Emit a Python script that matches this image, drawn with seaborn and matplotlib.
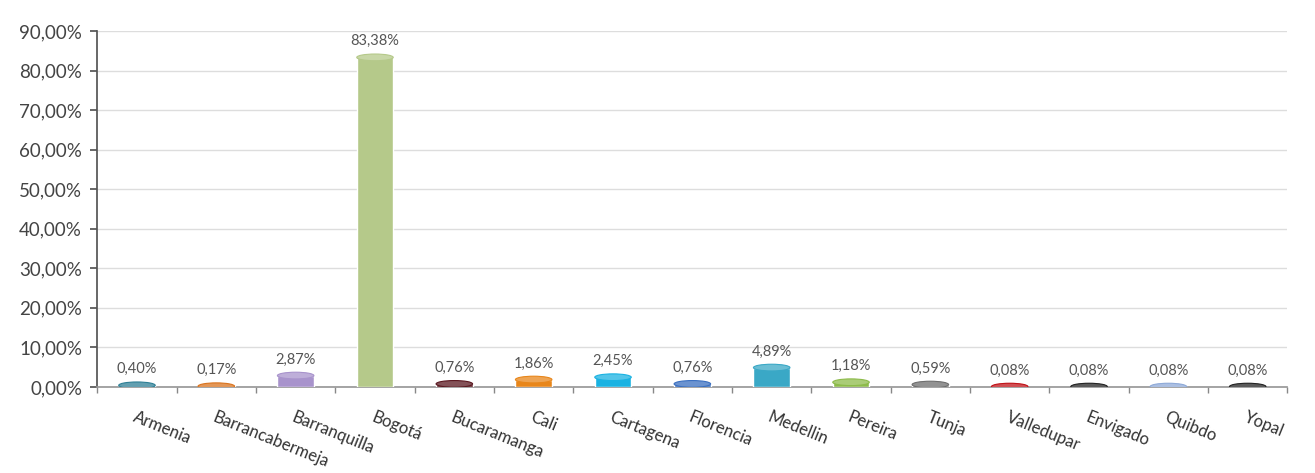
import matplotlib
matplotlib.use("Agg")
import matplotlib.pyplot as plt
import seaborn as sns
import pandas as pd
import numpy as np
from matplotlib.patches import Ellipse
from matplotlib.ticker import FuncFormatter, FixedLocator
import matplotlib.colors as mcolors

cities = ["Armenia", "Barrancabermeja", "Barranquilla", "Bogotá", "Bucaramanga",
          "Cali", "Cartagena", "Florencia", "Medellin", "Pereira", "Tunja",
          "Valledupar", "Envigado", "Quibdo", "Yopal"]
values = [0.40, 0.17, 2.87, 83.38, 0.76, 1.86, 2.45, 0.76, 4.89, 1.18, 0.59,
          0.08, 0.08, 0.08, 0.08]
colors = ["#2E7F95", "#D9731E", "#A893CC", "#B5C98A", "#5A1820", "#E8861A",
          "#19B2E2", "#3A6FC0", "#3AA8C6", "#8DBB4A", "#6E6E6E", "#C0141A",
          "#242424", "#8FAAD8", "#242424"]
yticks = [0, 10, 20, 30, 40, 50, 60, 70, 80, 90]

df = pd.DataFrame({"city": cities, "value": values})

sns.set_theme(style="white")
plt.rcParams["font.family"] = ["Lato", "DejaVu Sans"]

fig = plt.figure(figsize=(13.15, 4.73), dpi=100)
ax = fig.add_axes([0.074, 0.182, 0.905, 0.752])

bw = 0.46
sns.barplot(data=df, x="city", y="value", hue="city", palette=colors,
            legend=False, width=bw, ax=ax, saturation=1, zorder=3)

# cylinder-like caps
cap_h = 1.7
for i, (v, c) in enumerate(zip(values, colors)):
    ax.add_patch(Ellipse((i, 0), bw, cap_h, facecolor=c, edgecolor="none", zorder=2.9))
    light = mcolors.to_rgb(c)
    light = tuple(min(1, x * 0.75 + 0.25) for x in light)
    ax.add_patch(Ellipse((i, v), bw, cap_h, facecolor=light,
                         edgecolor=c, linewidth=0.8, zorder=4))
    ax.text(i, v + 2.3, f"{v:.2f}%".replace(".", ","), ha="center", va="bottom",
            fontsize=10.5, color="#555555", zorder=5)

ax.set_ylim(0, 90)
ax.set_xlim(-0.5, len(cities) - 0.5)
ax.yaxis.set_major_locator(FixedLocator(yticks))
ax.yaxis.set_major_formatter(FuncFormatter(lambda v, p: f"{v:.2f}%".replace(".", ",")))
ax.grid(axis="y", color="#DDDDDD", linewidth=1, zorder=0)
ax.set_axisbelow(True)

ax.set_xticks(range(len(cities)))
ax.set_xticklabels(cities, rotation=-22, ha="left", rotation_mode="anchor",
                   fontsize=12, color="#333333")
ax.tick_params(axis="x", which="major", length=0, pad=16)
ax.set_xticks(np.arange(-0.5, len(cities), 1.0), minor=True)
ax.tick_params(axis="x", which="minor", length=4, color="#888888", bottom=True)
ax.tick_params(axis="y", length=5, color="#555555", left=True, labelsize=13.5,
               labelcolor="#444444", pad=6)

ax.set_xlabel("")
ax.set_ylabel("")
for s in ["top", "right"]:
    ax.spines[s].set_visible(False)
ax.spines["left"].set_color("#555555")
ax.spines["bottom"].set_color("#999999")

fig.savefig("out.png", dpi=100, facecolor="white")
